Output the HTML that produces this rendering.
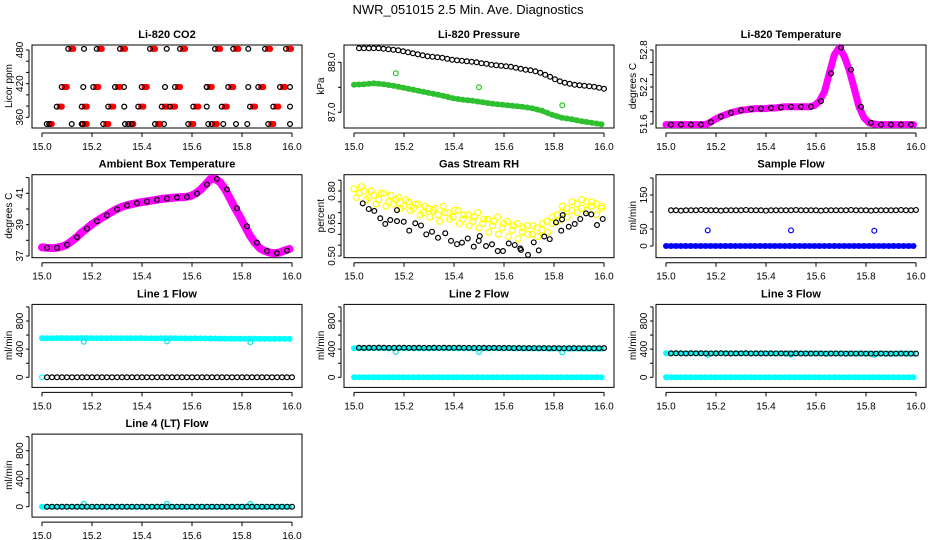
<!DOCTYPE html>
<html><head><meta charset="utf-8"><style>
html,body{margin:0;padding:0;background:#fff;}
svg{display:block;font-family:"Liberation Sans",sans-serif;}
</style></head><body>
<svg id="chart" width="936" height="540" viewBox="0 0 936 540" xmlns="http://www.w3.org/2000/svg">
<text x="468" y="14" text-anchor="middle" font-size="13">NWR_051015  2.5 Min. Ave. Diagnostics</text>
</svg>
<script>
// ---- data ----
const co2RedTop=[15.105,15.219,15.312,15.432,15.552,15.692,15.765,15.892,15.976];
const co2RedMid=[15.079,15.205,15.292,15.399,15.532,15.659,15.745,15.865,15.952];
const co2RedLow=[15.059,15.159,15.265,15.385,15.479,15.512,15.605,15.719,15.832,15.925];
const co2RedBot=[15.019,15.159,15.245,15.345,15.452,15.585,15.679,15.905];
const co2Levels=[482,414,379,348];
const co2BlackTop=[15.168,15.499,15.825];
const co2BlackMid=[15.165,15.328,15.492,15.659,15.825,15.992];
const co2BlackLow=[15.329,15.659,15.992];
const co2BlackBot=[15.029,15.119,15.163,15.332,15.359,15.488,15.665,15.725,15.776,15.821,15.992];

const pressBlack=[88.28,88.28,88.28,88.28,88.28,88.27,88.26,88.25,88.24,88.22,88.20,88.18,88.16,88.14,88.12,88.11,88.10,88.09,88.07,88.05,88.04,88.03,88.02,88.01,88.00,87.98,87.97,87.95,87.94,87.93,87.92,87.91,87.89,87.87,87.85,87.84,87.82,87.79,87.75,87.71,87.66,87.62,87.59,87.57,87.55,87.54,87.53,87.52,87.51,87.49,87.47];
const pressGreen=[87.55,87.56,87.58,87.56,87.53,87.49,87.45,87.41,87.37,87.33,87.28,87.25,87.23,87.20,87.17,87.15,87.13,87.11,87.08,87.03,86.95,86.89,86.86,86.82,86.79,86.76];
const pressGreenOutX=[15.167,15.5,15.833];
const pressGreenOutY=[87.78,87.5,87.14];

const tempVals=[51.59,51.59,51.59,51.59,51.59,51.59,51.59,51.59,51.59,51.63,51.68,51.72,51.75,51.78,51.80,51.82,51.83,51.84,51.85,51.85,51.85,51.86,51.86,51.87,51.88,51.88,51.88,51.88,51.88,51.88,51.90,51.97,52.12,52.42,52.72,52.84,52.70,52.48,52.18,51.88,51.70,51.62,51.60,51.59,51.59,51.59,51.59,51.59,51.59,51.59,51.59];

const ambVals=[37.55,37.52,37.5,37.52,37.6,37.72,37.95,38.2,38.5,38.75,39.0,39.22,39.42,39.6,39.8,39.98,40.12,40.22,40.3,40.37,40.43,40.48,40.53,40.58,40.63,40.67,40.7,40.73,40.75,40.77,40.82,40.98,41.22,41.55,41.9,41.92,41.7,41.25,40.65,40.05,39.5,38.9,38.3,37.85,37.5,37.32,37.22,37.18,37.22,37.35,37.45];

const rhA=[0.81,0.79,0.80,0.77,0.78,0.76,0.79,0.75,0.74,0.77,0.73,0.75,0.72,0.74,0.70,0.72,0.71,0.69,0.73,0.70,0.68,0.71,0.67,0.69,0.66,0.70,0.65,0.67,0.64,0.68,0.63,0.66,0.62,0.65,0.61,0.64,0.60,0.63,0.62,0.66,0.65,0.69,0.70,0.72,0.71,0.74,0.72,0.75,0.73,0.74,0.73];
const rhB=[0.77,0.82,0.76,0.80,0.74,0.79,0.73,0.78,0.76,0.72,0.76,0.71,0.74,0.69,0.73,0.68,0.72,0.66,0.70,0.67,0.71,0.65,0.69,0.64,0.68,0.63,0.67,0.61,0.66,0.60,0.65,0.59,0.64,0.58,0.63,0.60,0.64,0.59,0.65,0.61,0.68,0.66,0.73,0.68,0.75,0.70,0.76,0.71,0.75,0.69,0.72];
const rhBlackX=[15.035,15.059,15.081,15.105,15.125,15.145,15.172,15.172,15.199,15.221,15.245,15.268,15.289,15.312,15.336,15.365,15.388,15.412,15.432,15.455,15.479,15.499,15.503,15.528,15.552,15.575,15.596,15.619,15.643,15.665,15.668,15.696,15.719,15.739,15.761,15.783,15.808,15.829,15.832,15.835,15.859,15.883,15.905,15.928,15.949,15.972,15.995];
const rhBlackY=[0.743,0.717,0.708,0.674,0.648,0.666,0.712,0.661,0.658,0.617,0.651,0.641,0.600,0.612,0.584,0.605,0.570,0.555,0.562,0.581,0.543,0.570,0.592,0.546,0.554,0.523,0.523,0.558,0.551,0.535,0.528,0.505,0.563,0.526,0.590,0.578,0.655,0.617,0.669,0.689,0.635,0.648,0.671,0.697,0.692,0.643,0.671];

const sampleBlack=[105,105,104,105,105,105,106,105,105,105,104,105,105,105,105,106,105,105,105,104,105,105,105,105,105,106,105,105,105,105,104,105,105,105,105,105,106,105,105,105,104,105,105,105,105,105,106,105,105,106];
const sampleBlue=[0,0,0,0,0,0,0,0,0,0,0,0,0,0,0,0,0,0,0,0,0,0,0,0,0,0];
const outX=[15.167,15.5,15.833];
const sampleBlueOut=[46,46,45];

const line1Black=[0,0,0,0,0,0,0,0,0,0,0,0,0,0,0,0,0,0,0,0,0,0,0,0,0,0,0,0,0,0,0,0,0,0,0,0,0,0,0,0,0,0,0,0,0,0,0,0,0,0];
const line1Cyan=[556,555,557,556,558,556,555,556,554,555,556,553,554,555,553,552,553,551,550,549,548,549,547,546,547,546];
const line1CyanOut=[505,510,500];
const line2Black=[420,418,420,419,421,420,418,419,420,420,419,418,420,419,418,420,419,420,418,419,420,419,418,417,419,418,417,418,417,416,417,415,416,415,414,415,413,414,413,414,412,413,412,414,413,412,413,412,413,414];
const line2Cyan=[412,413,412,414,413,412,413,411,412,413,411,412,410,411,412,410,411,409,410,409,408,409,407,408,407,406];
const line2CyanOut=[360,360,355];
const line3Black=[340,341,340,339,341,340,341,340,339,340,341,340,339,340,340,341,339,340,340,339,340,339,340,338,339,340,338,339,338,339,338,337,338,339,338,337,338,337,338,337,336,337,338,337,336,337,338,337,336,337];
const line3Cyan=[342,341,342,341,340,341,342,340,341,340,341,339,340,341,339,340,339,338,339,338,339,337,338,337,338,337];
const line3CyanOut=[320,322,318];
const zeroCyan=[0,0,0,0,0,0,0,0,0,0,0,0,0,0,0,0,0,0,0,0,0,0,0,0,0,0];
const line4Black=[0,0,0,0,0,0,0,0,0,0,0,0,0,0,0,0,0,0,0,0,0,0,0,0,0,0,0,0,0,0,0,0,0,0,0,0,0,0,0,0,0,0,0,0,0,0,0,0,0,0];
const line4CyanOut=[40,40,40];

// ---- drawing helpers ----
const NS='http://www.w3.org/2000/svg';
const svg=document.getElementById('chart');
function el(tag,attrs,parent){const e=document.createElementNS(NS,tag);for(const k in attrs)e.setAttribute(k,attrs[k]);(parent||svg).appendChild(e);return e;}

function makePanel(c,r,title,ylab,v1,p1,v2,p2,ticks,labels,name){
  const top=45+129.7*r, bottom=top+83;
  const x0=42+312*c;
  const g=el('g',{});
  
  
  const X=d=>x0+(d-15)*250;
  const Y=v=>top+p1+(v-v1)*(p2-p1)/(v2-v1);
  const box=el('rect',{x:x0-10,y:top,width:270,height:83,fill:'none',stroke:'#000','stroke-width':1},g);
  
  
  const t=el('text',{x:x0+125,y:top-7,'text-anchor':'middle','font-size':11,'font-weight':'bold'},g);
  t.textContent=title;
  
  
  const xa=el('g',{},g);
  
  
  el('line',{x1:X(15),x2:X(16),y1:bottom+5,y2:bottom+5,stroke:'#000'},xa);
  for(let i=0;i<=5;i++){const d=15+i*0.2;
    el('line',{x1:X(d),x2:X(d),y1:bottom+5,y2:bottom+9,stroke:'#000'},xa);
    const tl=el('text',{x:X(d),y:bottom+22,'text-anchor':'middle','font-size':10},xa);tl.textContent=d.toFixed(1);}
  const ya=el('g',{},g);
  
  
  const ax=x0-13;
  el('line',{x1:ax,x2:ax,y1:Y(ticks[0]),y2:Y(ticks[ticks.length-1]),stroke:'#000'},ya);
  ticks.forEach(v=>{el('line',{x1:ax-3,x2:ax,y1:Y(v),y2:Y(v),stroke:'#000'},ya);});
  labels.forEach(v=>{const tl=el('text',{x:0,y:0,'text-anchor':'middle','font-size':10,transform:`translate(${ax-6},${Y(v)}) rotate(-90)`},ya);
    tl.textContent=(typeof v==='number'&&ticks.some(t=>t%1!==0))?v.toFixed(labels.some(l=>Math.abs(l*10-Math.round(l*10))>1e-6)?2:1):String(v);});
  const yl=el('text',{x:0,y:0,'text-anchor':'middle','font-size':10,transform:`translate(${x0-30},${top+41}) rotate(-90)`},g);
  yl.textContent=ylab;
  
  
  return {g,X,Y};
}
function circ(P,d,v,color,name,r,w){const e=el('circle',{cx:P.X(d),cy:P.Y(v),r:r||2.4,fill:'none',stroke:color,'stroke-width':w||1.2},P.g);
  
  return e;}
function series(P,vals,start,step,color,name,r){vals.forEach((v,i)=>circ(P,start+i*step,v,color,name+'-point',r));}
function band(P,vals,start,step,color,width,name){
  const pts=vals.map((v,i)=>P.X(start+i*step).toFixed(1)+','+P.Y(v).toFixed(1)).join(' ');
  const e=el('polyline',{points:pts,fill:'none',stroke:color,'stroke-width':width,'stroke-linejoin':'round','stroke-linecap':'round'},P.g);
  
  
  vals.forEach((v,i)=>{circ(P,start+i*step,v,color,name+'-point',2.4);
    if(i<vals.length-1)circ(P,start+i*step+step/2,(v+vals[i+1])/2,color,name+'-point',2.4);});
}
function pairs(P,xs,ys,color,name){xs.forEach((d,i)=>circ(P,d,ys[i],color,name));}

// ---- panels ----
const p1=makePanel(0,0,'Li-820 CO2','Licor ppm',360,72.3,480,5,[360,380,400,420,440,460,480],[360,420,480],'co2-panel');
[co2RedTop,co2RedMid,co2RedLow,co2RedBot].forEach((arr,li)=>{arr.forEach(d=>{
  const e=el('rect',{x:p1.X(d),y:p1.Y(co2Levels[li])-3,width:8,height:6,rx:2.5,fill:'#f00'},p1.g);
  
  
  circ(p1,d,co2Levels[li],'#000','co2-black-point',2.4,1.3);});});
[co2BlackTop,co2BlackMid,co2BlackLow,co2BlackBot].forEach((arr,li)=>arr.forEach(d=>circ(p1,d,co2Levels[li],'#000','co2-black-point',2.4,1.3)));

const p2=makePanel(1,0,'Li-820 Pressure','kPa',88,17.3,87,67.3,[87,87.5,88],[87,88],'pressure-panel');
band(p2,pressGreen,15,0.0396,'#2fc02f',5,'pressure-green-band');
pairs(p2,pressGreenOutX,pressGreenOutY,'#22cc22','pressure-green-outlier');
series(p2,pressBlack,15.02,0.0196,'#000','pressure-black');

const p3=makePanel(2,0,'Li-820 Temperature','degrees C',52.8,5,51.6,79,[51.6,51.8,52,52.2,52.4,52.6,52.8],[51.6,52.2,52.8],'temperature-panel');
band(p3,tempVals,15,0.0198,'#ff00ff',7,'temperature-magenta-band');
series(p3,tempVals.filter((v,i)=>i%2===1),15.02,0.04,'#000','temperature-black');

const p4=makePanel(0,1,'Ambient Box Temperature','degrees C',41,18.6,37,81.3,[37,38,39,40,41,42],[37,39,41],'ambient-panel');
band(p4,ambVals,15,0.0198,'#ff00ff',8,'ambient-magenta-band');
series(p4,ambVals.filter((v,i)=>i%2===1),15.02,0.04,'#000','ambient-black');

const p5=makePanel(1,1,'Gas Stream RH','percent',0.8,16.3,0.5,81.3,[0.5,0.55,0.6,0.65,0.7,0.75,0.8,0.85],[0.5,0.65,0.8],'rh-panel');
series(p5,rhA,15,0.0198,'#ffff00','rh-yellow-a',3);
series(p5,rhB,15.01,0.0196,'#ffff00','rh-yellow-b',3);
pairs(p5,rhBlackX,rhBlackY,'#000','rh-black-point');

const p6=makePanel(2,1,'Sample Flow','ml/min',150,20.3,0,71.3,[0,50,100,150,200],[0,50,150],'sample-flow-panel');
band(p6,sampleBlue,15,0.0396,'#0000ff',5,'sample-blue-band');
pairs(p6,outX,sampleBlueOut,'#0000ff','sample-blue-outlier');
series(p6,sampleBlack,15.02,0.02,'#000','sample-black');

const fTicks=[0,200,400,600,800,1000], fLabels=[0,400,800];
const p7=makePanel(0,2,'Line 1 Flow','ml/min',0,72.9,800,16.6,fTicks,fLabels,'line1-panel');
band(p7,line1Cyan,15,0.0396,'#00ffff',5,'line1-cyan-band');
pairs(p7,outX,line1CyanOut,'#00e5e5','line1-cyan-dip');
circ(p7,15.0,0,'#00ffff','line1-cyan-zero');
series(p7,line1Black,15.02,0.02,'#000','line1-black');

const p8=makePanel(1,2,'Line 2 Flow','ml/min',0,72.9,800,16.6,fTicks,fLabels,'line2-panel');
band(p8,line2Cyan,15,0.0396,'#00ffff',5,'line2-cyan-band');
band(p8,zeroCyan,15,0.0396,'#00ffff',5,'line2-cyan-zero-band');
pairs(p8,outX,line2CyanOut,'#00e5e5','line2-cyan-dip');
series(p8,line2Black,15.02,0.02,'#000','line2-black');

const p9=makePanel(2,2,'Line 3 Flow','ml/min',0,72.9,800,16.6,fTicks,fLabels,'line3-panel');
band(p9,line3Cyan,15,0.0396,'#00ffff',5,'line3-cyan-band');
band(p9,zeroCyan,15,0.0396,'#00ffff',5,'line3-cyan-zero-band');
pairs(p9,outX,line3CyanOut,'#00e5e5','line3-cyan-dip');
series(p9,line3Black,15.02,0.02,'#000','line3-black');

const p10=makePanel(0,3,'Line 4 (LT) Flow','ml/min',0,72.6,800,16.6,fTicks,fLabels,'line4-panel');
band(p10,zeroCyan,15,0.0396,'#00ffff',5,'line4-cyan-zero-band');
pairs(p10,outX,line4CyanOut,'#00e5e5','line4-cyan-bump');
series(p10,line4Black,15.02,0.02,'#000','line4-black');
</script>
</body></html>
